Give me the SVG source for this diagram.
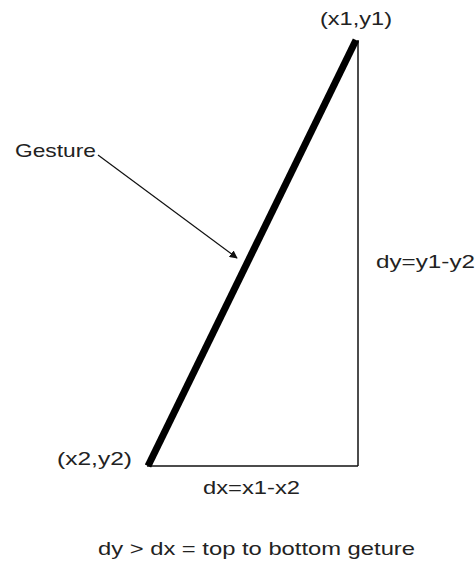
<svg xmlns="http://www.w3.org/2000/svg" width="476" height="566" viewBox="0 0 476 566">
<defs>
<style>
text{font-family:"Liberation Sans",Arial,sans-serif;font-size:19px;fill:#222}
</style>
<marker id="ah" viewBox="0 0 10 10" refX="9" refY="5" markerWidth="8" markerHeight="8" orient="auto" markerUnits="userSpaceOnUse"><path d="M0,0 L10,5 L0,10 z" fill="#111"/></marker>
</defs>
<rect width="476" height="566" fill="#fff"/>
<g id="triangle">
<line x1="358" y1="40" x2="358" y2="466" stroke="#111" stroke-width="1.5"/>
<line x1="147" y1="466" x2="358" y2="466" stroke="#111" stroke-width="1.5"/>
</g>
<g id="gesture-line">
<line x1="148" y1="466" x2="356" y2="40" stroke="#000" stroke-width="7"/>
</g>
<g id="connectors">
<line x1="98" y1="155" x2="237" y2="258" stroke="#111" stroke-width="1.2" marker-end="url(#ah)"/>
</g>
<g id="labels">
<text x="320" y="25" textLength="72" lengthAdjust="spacingAndGlyphs">(x1,y1)</text>
<text x="15" y="157" textLength="81" lengthAdjust="spacingAndGlyphs">Gesture</text>
<text x="376" y="268" textLength="99" lengthAdjust="spacingAndGlyphs">dy=y1-y2</text>
<text x="57" y="465" textLength="75" lengthAdjust="spacingAndGlyphs">(x2,y2)</text>
<text x="203" y="494" textLength="97" lengthAdjust="spacingAndGlyphs">dx=x1-x2</text>
<text x="98" y="555" textLength="317" lengthAdjust="spacingAndGlyphs">dy &gt; dx = top to bottom geture</text>
</g>
</svg>
